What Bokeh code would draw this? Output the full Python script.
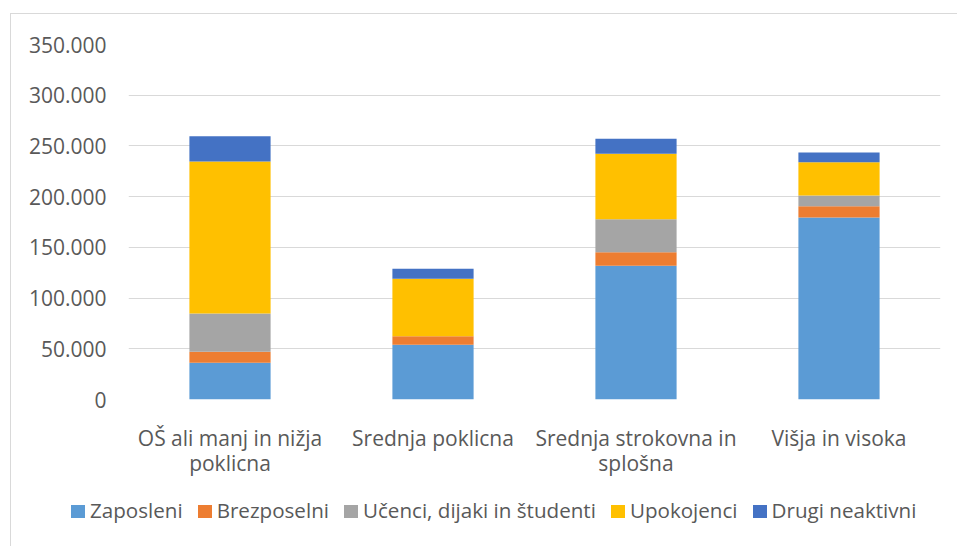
from bokeh.plotting import figure
from bokeh.layouts import column
from bokeh.models import (ColumnDataSource, FactorRange, Range1d, FixedTicker,
                          CustomJSTickFormatter, Div)
from bokeh.embed import file_html
from bokeh.resources import INLINE

categories = ["OŠ ali manj in nižja\npoklicna", "Srednja poklicna",
              "Srednja strokovna in\nsplošna", "Višja in visoka"]
series_names = ["Zaposleni", "Brezposelni", "Učenci, dijaki in študenti",
                "Upokojenci", "Drugi neaktivni"]
zaposleni = [36200, 53900, 131800, 179400]
brezposelni = [10800, 8500, 13400, 11200]
ucenci = [37800, 0, 32500, 10500]
upokojenci = [149800, 56600, 64500, 32900]
drugi = [25000, 9900, 14800, 9500]
y_ticks = [0, 50000, 100000, 150000, 200000, 250000, 300000, 350000]
colors = ["#5B9BD5", "#ED7D31", "#A5A5A5", "#FFC000", "#4472C4"]

FONT = "Open Sans"
TXT = "#595959"
FS = "21px"
LFS = "20.6px"

keys = ["s0", "s1", "s2", "s3", "s4"]
source = ColumnDataSource(dict(cat=categories, s0=zaposleni, s1=brezposelni,
                               s2=ucenci, s3=upokojenci, s4=drugi))

p = figure(x_range=FactorRange(*categories, range_padding=0),
           y_range=Range1d(0, 350000),
           width=955, height=482, output_backend="svg", toolbar_location=None,
           min_border_left=128, min_border_right=15, min_border_top=44,
           min_border_bottom=83)
p.outline_line_color = None
p.background_fill_color = "white"
p.border_fill_alpha = 0

renderers = p.vbar_stack(keys, x="cat", width=0.4, source=source, color=colors,
                         line_color=None)

p.yaxis.ticker = FixedTicker(ticks=y_ticks)
p.yaxis.formatter = CustomJSTickFormatter(code="""
    return Math.round(tick).toString().replace(/\\B(?=(\\d{3})+(?!\\d))/g, ".");
""")
for ax in (p.xaxis[0], p.yaxis[0]):
    ax.axis_line_color = None
    ax.major_tick_line_color = None
    ax.minor_tick_line_color = None
    ax.major_tick_out = 0
    ax.major_tick_in = 0
    ax.minor_tick_out = 0
    ax.major_label_text_font = FONT
    ax.major_label_text_font_size = FS
    ax.major_label_text_color = TXT
p.yaxis.major_label_standoff = 22
p.xaxis.major_label_standoff = 24
p.xaxis.major_label_text_line_height = 0.9
p.xgrid.grid_line_color = None
p.ygrid.grid_line_color = "#D9D9D9"
p.ygrid.grid_line_width = 1

# legend strip below the chart, built from the series names and colours
items_html = "".join(
    (f'<span style="display:inline-block;width:15px"></span>' if i else "")
    + f'<span style="display:inline-block;width:14px;height:13px;'
      f'background:{c};margin-right:5px"></span>{n}'
    for i, (n, c) in enumerate(zip(series_names, colors))
)
legend_div = Div(
    text=f'<div style="font-family:\'{FONT}\';font-size:{LFS};color:{TXT};'
         f'white-space:nowrap;padding-left:66px;padding-top:9px">{items_html}</div>',
    width=955, height=62)

layout = column(p, legend_div, spacing=0)
layout.styles = {
    "background": "linear-gradient(#D9D9D9,#D9D9D9) 10px 13px / 1px 100% no-repeat, "
                  "linear-gradient(#D9D9D9,#D9D9D9) 10px 13px / 100% 1px no-repeat, white",
}

open("out.html", "w").write(file_html(layout, INLINE))
